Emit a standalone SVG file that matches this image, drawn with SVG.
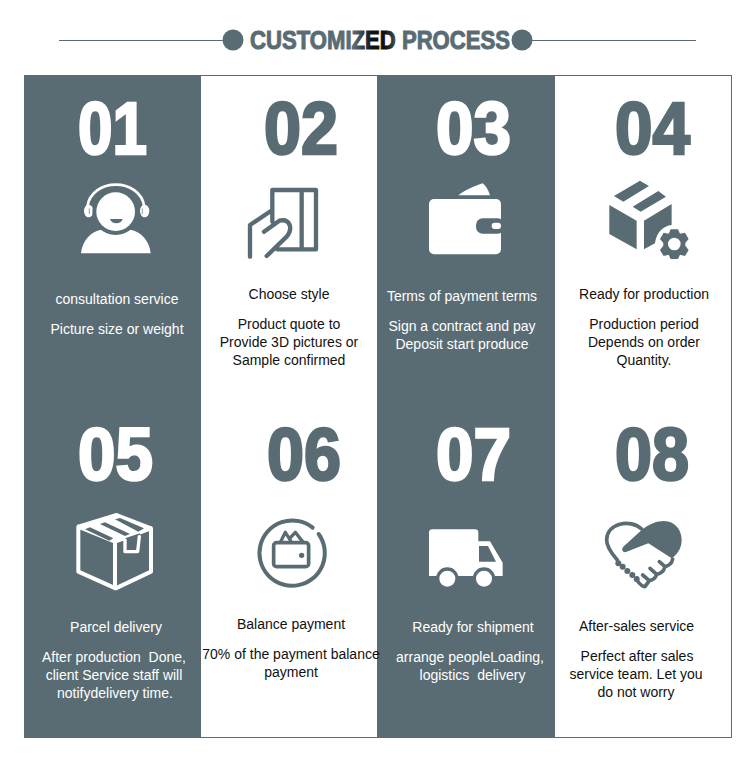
<svg xmlns="http://www.w3.org/2000/svg" width="750" height="774" viewBox="0 0 750 774">
<style>
.n{font-family:"Liberation Sans",Arial,sans-serif;font-weight:700;font-size:74px;stroke-width:2.6px;stroke-linejoin:miter}
.t{font-family:"Liberation Sans",Arial,sans-serif;font-size:14px;text-anchor:middle;white-space:pre}
.w{fill:#fff;stroke:#fff}.d{fill:#5a6c73;stroke:#5a6c73}
.tw{fill:#fff}.td{fill:#111}
.ds{fill:none;stroke:#5a6c73;stroke-linecap:round;stroke-linejoin:round}
.ws{fill:none;stroke:#fff;stroke-linecap:round;stroke-linejoin:round}
.fd{fill:#5a6c73}.fw{fill:#fff}
</style>
<defs><linearGradient id="tg" gradientUnits="userSpaceOnUse" x1="249" y1="0" x2="511" y2="0">
<stop offset="0.4" stop-color="#5a6c73"/><stop offset="0.47" stop-color="#111"/><stop offset="0.52" stop-color="#111"/><stop offset="0.58" stop-color="#5a6c73"/></linearGradient></defs>
<rect width="750" height="774" fill="#fff"/>
<g id="header">
<path d="M59 40.500H224M532 40.500H696" stroke="#5a6c73" stroke-width="1" fill="none"/>
<circle cx="233" cy="40" r="10.5" class="fd"/><circle cx="522" cy="40" r="10.5" class="fd"/>
<text x="250" y="48.500" font-family="Liberation Sans,Arial,sans-serif" font-weight="700" font-size="25" textLength="260" lengthAdjust="spacingAndGlyphs" fill="url(#tg)" stroke="url(#tg)" stroke-width="1">CUSTOMIZED PROCESS</text>
</g>
<g id="panels">
<rect x="24.500" y="75.500" width="707" height="662" fill="#fff" stroke="#5a6c73"/>
<rect x="24" y="75" width="177" height="663" class="fd"/>
<rect x="377" y="75" width="178" height="663" class="fd"/>
</g>
<g id="step1">
<text class="n w" x="78" y="153.500" textLength="69" lengthAdjust="spacingAndGlyphs">01</text>
<g transform="translate(50,90) scale(.3333)">
<path class="ws" d="M112 350C125 262 270 262 283 350" stroke-width="8"/>
<ellipse class="fw" cx="116" cy="363" rx="14" ry="19"/><ellipse class="fw" cx="284" cy="363" rx="14" ry="19"/>
<path class="fw" d="M93 490C97 450 125 425 150 420H245C270 425 298 450 302 490Z"/>
<circle class="fd" cx="197" cy="365" r="70"/><circle class="fw" cx="197" cy="365" r="58"/>
<path class="fd" d="M180 387H218C214 404 184 404 180 387Z"/>
<path d="M118 355V372M277 355V372" stroke="#5a6c73" stroke-width="2"/>
</g>
<text class="t tw" x="117" y="304">consultation service</text>
<text class="t tw" x="117" y="334">Picture size or weight</text>
</g>
<g id="step2">
<text class="n d" x="264" y="153.500" textLength="74" lengthAdjust="spacingAndGlyphs">02</text>
<g transform="translate(240,180) scale(.3333)">
<path class="ds" stroke-width="13" d="M97 125V30H228V208H112M185 30V208M30 230V135L97 90M72 155L118 122C150 115 160 145 140 170L80 228"/>
</g>
<text class="t td" x="289" y="299">Choose style</text>
<text class="t td" x="289" y="329">Product quote to</text>
<text class="t td" x="289" y="347">Provide 3D pictures or</text>
<text class="t td" x="289" y="365">Sample confirmed</text>
</g>
<g id="step3">
<text class="n w" x="436" y="153.500" textLength="75" lengthAdjust="spacingAndGlyphs">03</text>
<g transform="translate(410,90) scale(.3333)">
<path class="fw" d="M145 316C165 300 195 288 218 280C228 288 236 302 240 316Z"/>
<rect class="fw" x="57" y="327" width="216" height="166" rx="15"/>
<rect class="fd" x="198" y="385" width="85" height="46" rx="20"/>
<rect class="fw" x="245" y="398" width="28" height="19" rx="9"/>
</g>
<text class="t tw" x="462" y="301">Terms of payment terms</text>
<text class="t tw" x="462" y="331">Sign a contract and pay</text>
<text class="t tw" x="462" y="349">Deposit start produce</text>
</g>
<g id="step4">
<text class="n d" x="615" y="153.500" textLength="75" lengthAdjust="spacingAndGlyphs">04</text>
<g transform="translate(410,90) scale(.3333)">
<path class="fd" d="M612 318L690 272L717 288L640 335ZM668 350L745 303L768 320L692 365ZM598 345L680 392V478L598 432ZM702 392L785 342V405C760 408 740 425 735 460L702 478Z"/>
<path class="fd" fill-rule="evenodd" d="M782 418H804L810 431L825 428L836 447L826 459V467L836 480L825 498L810 494L804 507H782L776 494L761 498L750 480L760 467V459L750 447L761 428L776 431ZM793 443A19 19 0 1 0 793 481A19 19 0 1 0 793 443Z"/>
</g>
<text class="t td" x="644" y="299">Ready for production</text>
<text class="t td" x="644" y="329">Production period</text>
<text class="t td" x="644" y="347">Depends on order</text>
<text class="t td" x="644" y="365">Quantity.</text>
</g>
<g id="step5">
<text class="n w" x="78" y="479.500" textLength="75" lengthAdjust="spacingAndGlyphs">05</text>
<g transform="translate(70,510) scale(.3333)">
<path class="fw" d="M25 50L140 15L243 55L135 95Z"/>
<path class="ws" stroke-width="12" d="M25 50L140 15L243 55V185L137 235L25 185ZM25 50L135 95L243 55M135 95V235"/>
<path class="fd" d="M45 58L60 52L130 85L118 92ZM90 42L105 37L180 72L165 78ZM135 28L150 24L222 55L205 65Z"/>
<path class="fd" d="M165 85L210 70V125H165Z"/>
<path class="ws" stroke-width="10" d="M165 90V125H203L208 80"/>
</g>
<text class="t tw" x="116" y="632">Parcel delivery</text>
<text class="t tw" x="114" y="662" xml:space="preserve">After production  Done,</text>
<text class="t tw" x="114" y="680">client Service staff will</text>
<text class="t tw" x="115" y="698">notifydelivery time.</text>
</g>
<g id="step6">
<text class="n d" x="267" y="479.500" textLength="74" lengthAdjust="spacingAndGlyphs">06</text>
<g transform="translate(50,420) scale(.3333)">
<path class="ds" stroke-width="12" d="M788 323A98 98 0 1 0 806 342"/>
<rect class="ds" stroke-width="11" x="671" y="368" width="105" height="72" rx="9"/>
<circle class="fd" cx="755" cy="406" r="8"/>
<path class="ds" stroke-width="10" d="M692 365L706 337L722 362M722 352L736 337L758 365"/>
</g>
<text class="t td" x="291" y="629">Balance payment</text>
<text class="t td" x="291" y="659">70% of the payment balance</text>
<text class="t td" x="291" y="677">payment</text>
</g>
<g id="step7">
<text class="n w" x="436" y="479.500" textLength="75" lengthAdjust="spacingAndGlyphs">07</text>
<g transform="translate(410,420) scale(.3333)">
<path class="fw" d="M68 328H195Q205 328 205 338V364H240L278 428V468H57V338Q57 328 68 328Z"/>
<path class="fd" d="M207 378H234L258 425H207Z"/>
<circle class="fd" cx="112" cy="476" r="34"/><circle class="fd" cx="222" cy="476" r="34"/>
<rect class="fd" x="50" y="468" width="240" height="30"/>
<circle class="fw" cx="112" cy="476" r="24"/><circle class="fw" cx="222" cy="476" r="24"/>
</g>
<text class="t tw" x="473" y="632">Ready for shipment</text>
<text class="t tw" x="470" y="662">arrange peopleLoading,</text>
<text class="t tw" x="472.500" y="680" xml:space="preserve">logistics  delivery</text>
</g>
<g id="step8">
<text class="n d" x="615" y="479.500" textLength="74" lengthAdjust="spacingAndGlyphs">08</text>
<g transform="translate(600,515) scale(.3333)">
<path class="fd" d="M72 112Q62 104 70 95L125 45C145 28 170 18 192 18C225 18 245 45 245 75C245 100 232 118 215 130L145 85L80 110Z"/>
<path class="ds" stroke-width="11" d="M125 42C90 10 20 25 20 75C20 100 40 120 52 135M218 132Q215 150 195 155L178 140M195 155Q190 175 170 178L150 160M170 178Q165 195 148 197L128 180M148 197L135 215Q125 215 110 195"/>
<circle class="fd" cx="55" cy="145" r="9"/><circle class="fd" cx="68" cy="155" r="9"/><circle class="fd" cx="82" cy="168" r="9"/><circle class="fd" cx="97" cy="180" r="9"/><circle class="fd" cx="110" cy="192" r="9"/>
</g>
<text class="t td" x="636.500" y="631">After-sales service</text>
<text class="t td" x="637" y="661">Perfect after sales</text>
<text class="t td" x="636" y="679">service team. Let you</text>
<text class="t td" x="636" y="697">do not worry</text>
</g>
</svg>
